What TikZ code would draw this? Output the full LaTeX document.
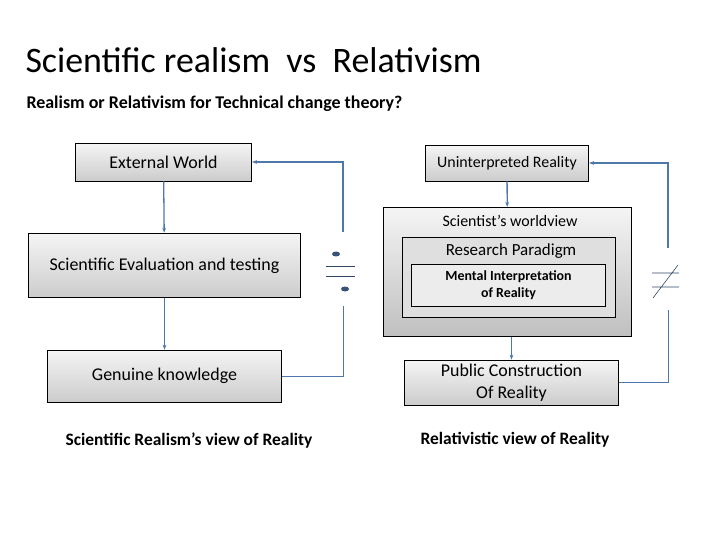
\documentclass[tikz,border=0pt]{standalone}
\usepackage{fontspec}
\setmainfont{Carlito}
\usetikzlibrary{arrows.meta}
\definecolor{cb}{RGB}{79,120,170}
\begin{document}
\begin{tikzpicture}[x=1bp,y=-1bp,
 box/.style={draw=black,line width=0.8pt,top color=gray!8,bottom color=gray!40,align=center,inner sep=0},
 wbox/.style={draw=black,line width=0.8pt,fill=#1,inner sep=0},
 con/.style={draw=cb,line width=1.3pt,-{Stealth[length=5pt]}},
 lin/.style={draw=cb,line width=1pt}]
\useasboundingbox (0,0) rectangle (720,540);
\node[anchor=west,font=\fontsize{36}{40}\selectfont] (title) at (22,60) {Scientific realism\ \ vs\ \ Relativism};
\node[anchor=west,font=\bfseries\fontsize{18}{21}\selectfont] (sub) at (23,104) {Realism or Relativism for Technical change theory?};
\node[box,minimum width=177,minimum height=38,font=\fontsize{18}{21}\selectfont] (ew) at (163.5,162) {External World};
\node[box,minimum width=273,minimum height=65,font=\fontsize{18}{21}\selectfont] (se) at (164.5,265.5) {Scientific Evaluation and testing};
\node[box,minimum width=235,minimum height=52,font=\fontsize{18}{21}\selectfont] (gk) at (164.5,376) {Genuine knowledge};
\node[font=\bfseries\fontsize{17.5}{20}\selectfont] (c1) at (189,441) {Scientific Realism’s view of Reality};
\node[box,minimum width=164,minimum height=36,font=\fontsize{16}{19}\selectfont] (ur) at (507,163) {Uninterpreted Reality};
\node[box,minimum width=249,minimum height=130,top color=gray!8,bottom color=gray!50] (sw) at (507.5,272) {};
\node[font=\fontsize{16}{19}\selectfont] (swt) at (510,221) {Scientist’s worldview};
\node[wbox=gray!25,minimum width=214,minimum height=81] (rp) at (509,277.5) {};
\node[font=\fontsize{17}{20}\selectfont] (rpt) at (511,251) {Research Paradigm};
\node[wbox=gray!15,minimum width=195,minimum height=42,align=center,font=\bfseries\fontsize{14}{17}\selectfont] (mi) at (508.5,285) {Mental Interpretation\\of Reality};
\node[box,minimum width=215,minimum height=45,align=center,font=\fontsize{18}{22}\selectfont] (pc) at (511.5,382.5) {Public Construction\\Of Reality};
\node[font=\bfseries\fontsize{17.5}{20}\selectfont] (c2) at (515,440) {Relativistic view of Reality};
\draw[con] (ew) -- (se);
\draw[con] (se) -- (gk);
\draw[con] (ur) -- (sw);
\draw[con] (sw.south -| pc.north) -- (pc);
\coordinate (l1) at (343,306); \coordinate (l2) at (343,232);
\coordinate (r1) at (668,310); \coordinate (r2) at (668,248);
\draw[lin] (gk.east) -| (l1);
\draw[con] (l2) |- (ew.east);
\draw[lin] (pc.east) -| (r1);
\draw[con] (r2) |- (ur.east);
\fill[cb!70!black] (336,254) ellipse (4 and 2.5) (345,289) ellipse (4 and 2.5);
\draw[cb!60!black,line width=0.6pt] (326,266) -- (355,266) (326,276) -- (355,276);
\draw[cb!60!black,line width=0.6pt] (652,273) -- (679,273) (652,287) -- (679,287) (653,298) -- (678,265);
\end{tikzpicture}
\end{document}
